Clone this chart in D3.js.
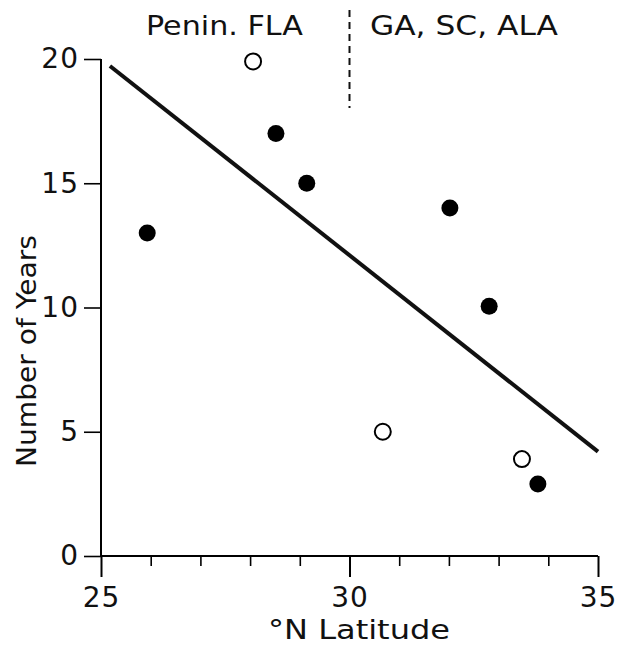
<!DOCTYPE html>
<html>
<head>
<meta charset="utf-8">
<script src="https://cdn.jsdelivr.net/npm/d3@7"></script>
<style>
  body { margin: 0; background: #fff; }
  text { font-family: "DejaVu Sans", "Liberation Sans", sans-serif; fill: #111; }
</style>
</head>
<body>
<div id="chart"></div>
<script>
// data
var filledLat = [25.93, 28.52, 29.14, 32.02, 32.81, 33.79]
var filledYears = [13.0, 17.0, 15.0, 14.0, 10.05, 2.9]
var openLat = [28.06, 30.67, 33.47]
var openYears = [19.9, 5.0, 3.9]
var fitLat = [25.18, 35.0]
var fitYears = [19.72, 4.2]
var xTicks = [25, 30, 35]
var xMinor = [26, 27, 28, 29, 31, 32, 33, 34]
var yTicks = [0, 5, 10, 15, 20]
var regionDivide = 30

var svgW = 620, svgH = 646
var margin = {left: 101, top: 59, right: 22, bottom: 90}

var svg = d3.select('#chart').append('svg')
    .attr('width', svgW)
    .attr('height', svgH)

var x = d3.scaleLinear().domain([25, 35]).range([margin.left, svgW - margin.right])
var y = d3.scaleLinear().domain([0, 20]).range([svgH - margin.bottom, margin.top])

// x axis
var xAxis = svg.append('g')
    .attr('transform', 'translate(0,' + y(0) + ')')
    .call(d3.axisBottom(x).tickValues(xTicks).tickSize(21).tickPadding(10).tickFormat(d3.format('d')))
xAxis.select('.domain').attr('d', 'M' + x(25) + ',0H' + x(35)).attr('stroke-width', 2)
xAxis.selectAll('.tick line').attr('stroke-width', 2)
xAxis.selectAll('text').attr('font-size', 28).attr('letter-spacing', 1)

svg.append('g')
    .attr('transform', 'translate(0,' + y(0) + ')')
    .call(d3.axisBottom(x).tickValues(xMinor).tickSize(10).tickFormat(''))
    .call(function(g) { g.select('.domain').remove() })
    .selectAll('line').attr('stroke-width', 1.6)

// y axis
var yAxis = svg.append('g')
    .attr('transform', 'translate(' + x(25) + ',0)')
    .call(d3.axisLeft(y).tickValues(yTicks).tickSize(17).tickPadding(5))
yAxis.select('.domain').attr('d', 'M0,' + y(20) + 'V' + y(0)).attr('stroke-width', 2)
yAxis.selectAll('.tick line').attr('stroke-width', 1.6)
yAxis.selectAll('text').attr('font-size', 28).attr('letter-spacing', 1)

// axis titles
svg.append('text')
    .attr('x', 268)
    .attr('y', 639)
    .attr('font-size', 26)
    .attr('textLength', 182)
    .attr('lengthAdjust', 'spacingAndGlyphs')
    .text('°N Latitude')

svg.append('text')
    .attr('transform', 'translate(36,467)rotate(-90)')
    .attr('font-size', 27)
    .attr('textLength', 232)
    .attr('lengthAdjust', 'spacingAndGlyphs')
    .text('Number of Years')

// region labels and divider
svg.append('line')
    .attr('x1', x(regionDivide)).attr('x2', x(regionDivide))
    .attr('y1', 10).attr('y2', 108)
    .attr('stroke', '#111')
    .attr('stroke-width', 2)
    .attr('stroke-dasharray', '7,5')

svg.append('text')
    .attr('x', 146)
    .attr('y', 35)
    .attr('font-size', 27)
    .attr('textLength', 157)
    .attr('lengthAdjust', 'spacingAndGlyphs')
    .text('Penin. FLA')

svg.append('text')
    .attr('x', 370)
    .attr('y', 35)
    .attr('font-size', 27)
    .attr('textLength', 188)
    .attr('lengthAdjust', 'spacingAndGlyphs')
    .text('GA, SC, ALA')

// fitted line
svg.append('line')
    .attr('x1', x(fitLat[0])).attr('y1', y(fitYears[0]))
    .attr('x2', x(fitLat[1])).attr('y2', y(fitYears[1]))
    .attr('stroke', '#111')
    .attr('stroke-width', 4)

// points
svg.selectAll('.filled')
    .data(filledLat)
    .enter().append('circle')
    .attr('class', 'filled')
    .attr('cx', function(d) { return x(d) })
    .attr('cy', function(d, i) { return y(filledYears[i]) })
    .attr('r', 8.5)
    .attr('fill', '#000')

svg.selectAll('.open')
    .data(openLat)
    .enter().append('circle')
    .attr('class', 'open')
    .attr('cx', function(d) { return x(d) })
    .attr('cy', function(d, i) { return y(openYears[i]) })
    .attr('r', 8)
    .attr('fill', '#fff')
    .attr('stroke', '#000')
    .attr('stroke-width', 2)
</script>
</body>
</html>
